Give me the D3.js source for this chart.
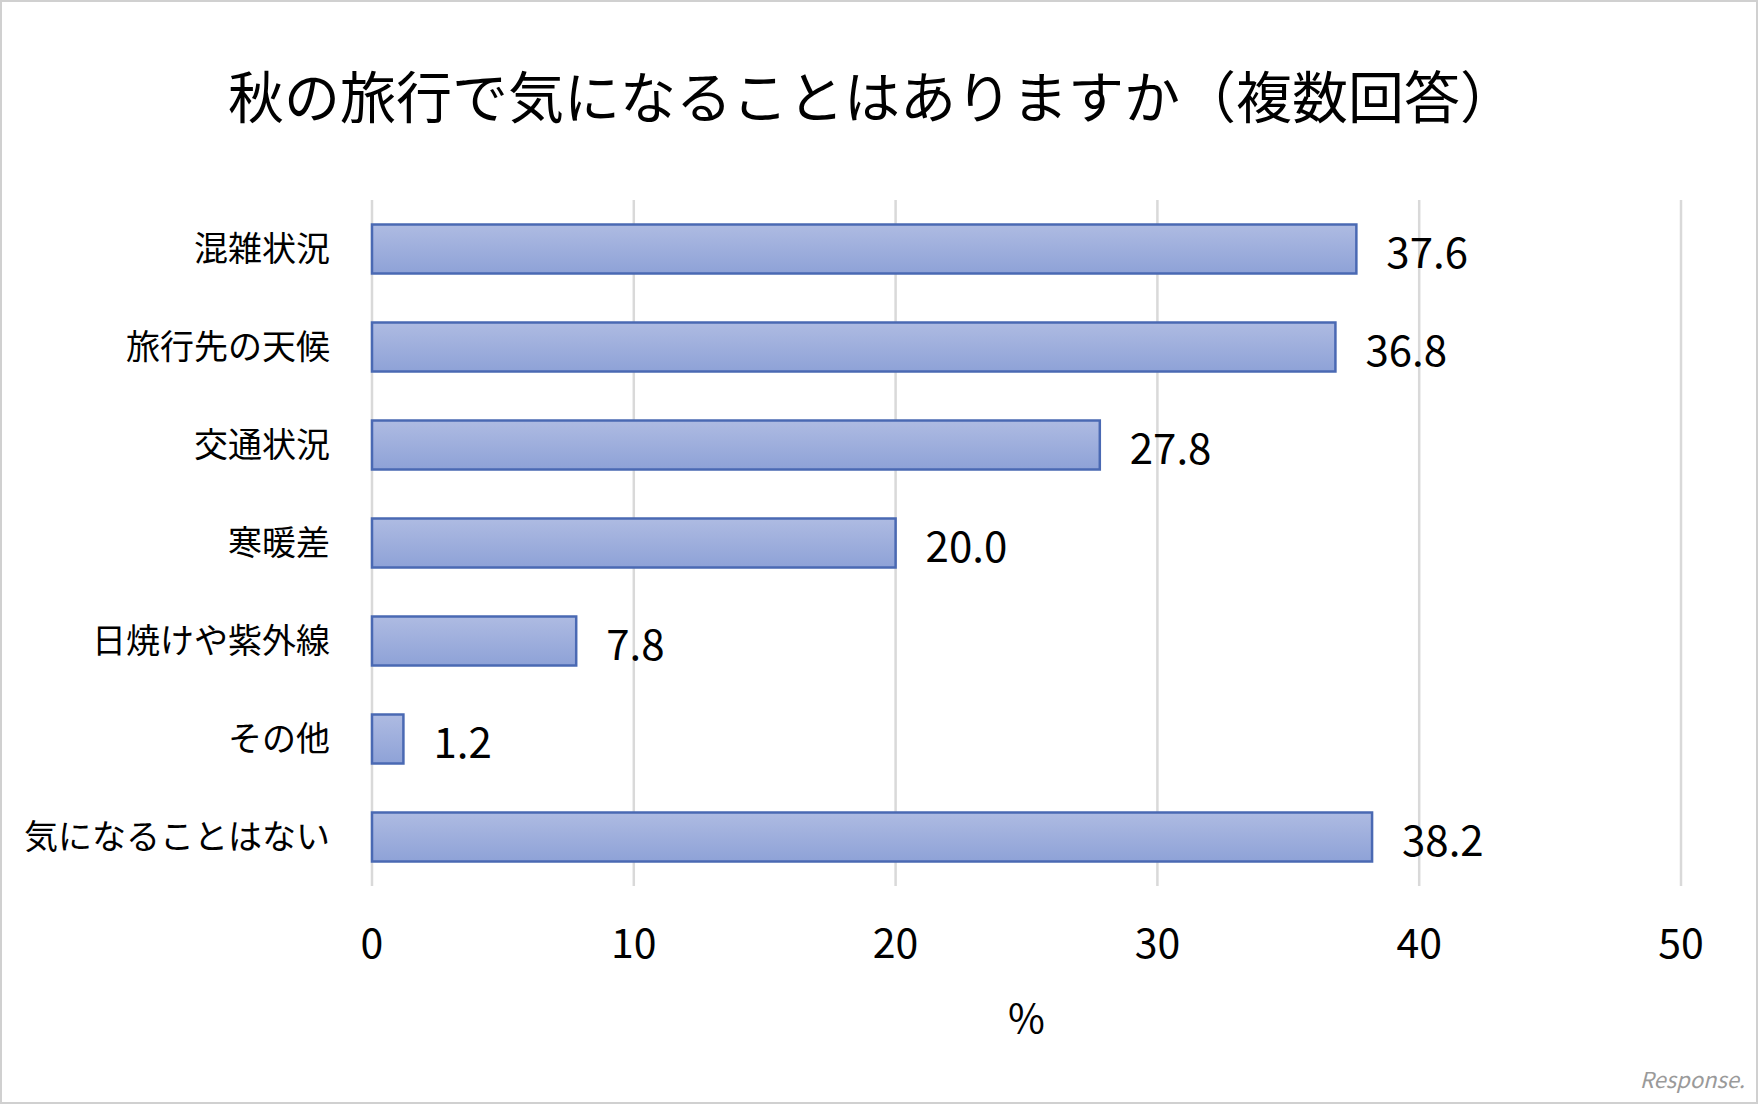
<!DOCTYPE html>
<html><head><meta charset="utf-8">
<script src="https://cdn.jsdelivr.net/npm/d3@7"></script>
<style>body{margin:0;background:#fff}text{font-family:"Noto Sans CJK JP","Noto Sans",sans-serif}</style>
</head><body><div id="chart"></div>
<script>
const categories = ["混雑状況","旅行先の天候","交通状況","寒暖差","日焼けや紫外線","その他","気になることはない"];
const values = [37.6,36.8,27.8,20.0,7.8,1.2,38.2];
const ticks = [0,10,20,30,40,50];

const W = 1759, H = 1105;
const svg = d3.select("#chart").append("svg").attr("width", W).attr("height", H);
svg.append("rect").attr("x",1).attr("y",1).attr("width",W-3).attr("height",H-3)
  .attr("fill","#fff").attr("stroke","#d0d0d0").attr("stroke-width",2);

const grad = svg.append("defs").append("linearGradient").attr("id","g").attr("x1",0).attr("y1",0).attr("x2",0).attr("y2",1);
grad.append("stop").attr("offset","0%").attr("stop-color","#aebbe2");
grad.append("stop").attr("offset","100%").attr("stop-color","#8ea2d7");

const x = d3.scaleLinear().domain([0,50]).range([372,1681]);
const y = d3.scaleBand().domain(categories).range([200,886]).paddingInner(0.5).paddingOuter(0.25);

svg.append("text").attr("x", 860+12).attr("y", 93).attr("text-anchor","middle").attr("dominant-baseline","central")
  .style("font-size","56px").text("秋の旅行で気になることはありますか（複数回答）");

svg.selectAll(".grid").data(ticks).join("line")
  .attr("x1", d => x(d)).attr("x2", d => x(d)).attr("y1",200).attr("y2",886)
  .attr("stroke","#d9d9d9").attr("stroke-width",2.5);

svg.selectAll(".bar").data(values).join("rect")
  .attr("x", x(0)).attr("y", (d,i) => y(categories[i]))
  .attr("width", d => x(d)-x(0)).attr("height", y.bandwidth())
  .attr("fill","url(#g)").attr("stroke","#4a69b3").attr("stroke-width",2.5);

svg.selectAll(".val").data(values).join("text")
  .attr("x", d => x(d)+30).attr("y", (d,i) => y(categories[i])+y.bandwidth()/2)
  .attr("dominant-baseline","central").style("font-size","42px").text(d => d.toFixed(1));

svg.selectAll(".cat").data(categories).join("text")
  .attr("x", 330).attr("y", d => y(d)+y.bandwidth()/2-3)
  .attr("text-anchor","end").attr("dominant-baseline","central").style("font-size","34px").text(d => d);

svg.selectAll(".tick").data(ticks).join("text")
  .attr("x", d => x(d)).attr("y", 940).attr("text-anchor","middle").attr("dominant-baseline","central")
  .style("font-size","41px").text(d => d);

svg.append("text").attr("x",(x(0)+x(50))/2).attr("y",1016).attr("text-anchor","middle")
  .attr("dominant-baseline","central").style("font-size","40px").text("%");

svg.append("text").attr("x",1745).attr("y",1088).attr("text-anchor","end")
  .style("font-size","22px").attr("fill","#9a9a9a").style("font-style","italic").text("Response.");
</script></body></html>
